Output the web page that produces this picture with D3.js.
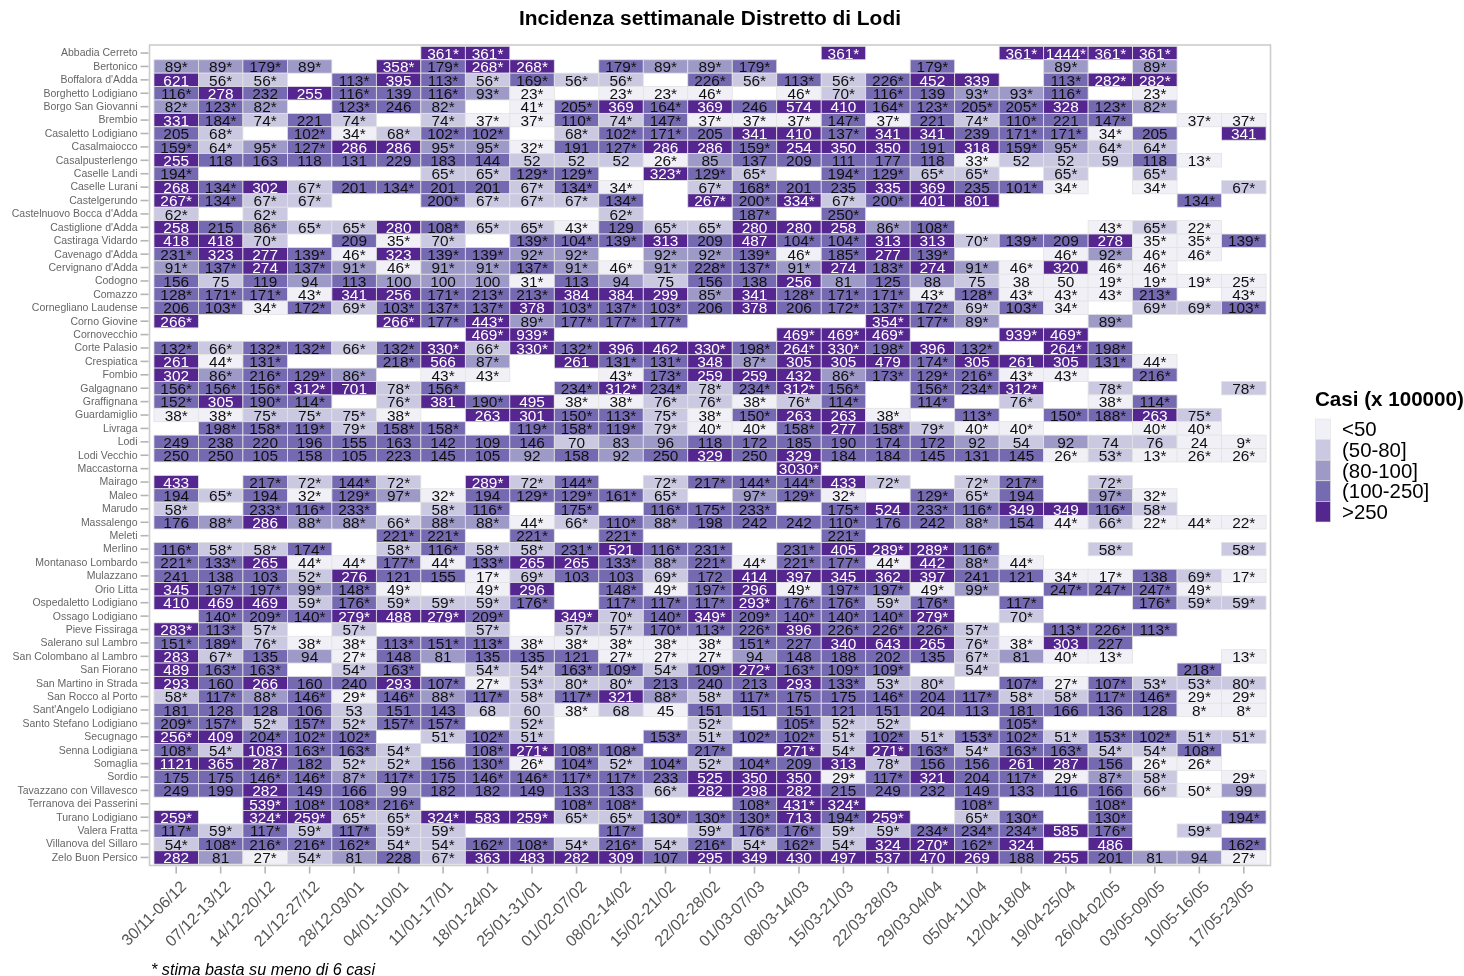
<!DOCTYPE html>
<html><head><meta charset="utf-8">
<script src="https://cdnjs.cloudflare.com/ajax/libs/d3/7.8.5/d3.min.js"></script>
<style>html,body{margin:0;background:#fff}svg{display:block}text{font-family:"Liberation Sans",Arial,sans-serif}</style>
</head><body><div id="chart"></div>
<script>
const chartTitle = "Incidenza settimanale Distretto di Lodi";
const footnote = "* stima basta su meno di 6 casi";
const legendTitle = "Casi (x 100000)";
const legendLabels = ["<50","(50-80]","(80-100]","(100-250]",">250"];
const classBreaks = [50,80,100,250];
const palette = ["#f2f0f7","#cbc9e2","#9e9ac8","#756bb1","#54278f"];
const weeks = ["30/11-06/12","07/12-13/12","14/12-20/12","21/12-27/12","28/12-03/01","04/01-10/01","11/01-17/01","18/01-24/01","25/01-31/01","01/02-07/02","08/02-14/02","15/02-21/02","22/02-28/02","01/03-07/03","08/03-14/03","15/03-21/03","22/03-28/03","29/03-04/04","05/04-11/04","12/04-18/04","19/04-25/04","26/04-02/05","03/05-09/05","10/05-16/05","17/05-23/05"];
const towns = ["Abbadia Cerreto","Bertonico","Boffalora d'Adda","Borghetto Lodigiano","Borgo San Giovanni","Brembio","Casaletto Lodigiano","Casalmaiocco","Casalpusterlengo","Caselle Landi","Caselle Lurani","Castelgerundo","Castelnuovo Bocca d'Adda","Castiglione d'Adda","Castiraga Vidardo","Cavenago d'Adda","Cervignano d'Adda","Codogno","Comazzo","Cornegliano Laudense","Corno Giovine","Cornovecchio","Corte Palasio","Crespiatica","Fombio","Galgagnano","Graffignana","Guardamiglio","Livraga","Lodi","Lodi Vecchio","Maccastorna","Mairago","Maleo","Marudo","Massalengo","Meleti","Merlino","Montanaso Lombardo","Mulazzano","Orio Litta","Ospedaletto Lodigiano","Ossago Lodigiano","Pieve Fissiraga","Salerano sul Lambro","San Colombano al Lambro","San Fiorano","San Martino in Strada","San Rocco al Porto","Sant'Angelo Lodigiano","Santo Stefano Lodigiano","Secugnago","Senna Lodigiana","Somaglia","Sordio","Tavazzano con Villavesco","Terranova dei Passerini","Turano Lodigiano","Valera Fratta","Villanova del Sillaro","Zelo Buon Persico"];
// one line per town, one comma-separated slot per week; * = estimate on fewer than 6 cases
const weeklyIncidence = [
",,,,,,361*,361*,,,,,,,,361*,,,,361*,1444*,361*,361*,,",
"89*,89*,179*,89*,,358*,179*,268*,268*,,179*,89*,89*,179*,,,,179*,,,89*,,89*,,",
"621,56*,56*,,113*,395,113*,56*,169*,56*,56*,,226*,56*,113*,56*,226*,452,339,,113*,282*,282*,,",
"116*,278,232,255,116*,139,116*,93*,23*,,23*,23*,46*,,46*,70*,116*,139,93*,93*,116*,,23*,,",
"82*,123*,82*,,123*,246,82*,,41*,205*,369,164*,369,246,574,410,164*,123*,205*,205*,328,123*,82*,,",
"331,184*,74*,221,74*,,74*,37*,37*,110*,74*,147*,37*,37*,37*,147*,37*,221,74*,110*,221,147*,,37*,37*",
"205,68*,,102*,34*,68*,102*,102*,,68*,102*,171*,205,341,410,137*,341,341,239,171*,171*,34*,205,,341",
"159*,64*,95*,127*,286,286,95*,95*,32*,191,127*,286,286,159*,254,350,350,191,318,159*,95*,64*,64*,,",
"255,118,163,118,131,229,183,144,52,52,52,26*,85,137,209,111,177,118,33*,52,52,59,118,13*,",
"194*,,,,,,65*,65*,129*,129*,,323*,129*,65*,,194*,129*,65*,65*,,65*,,65*,,",
"268,134*,302,67*,201,134*,201,201,67*,134*,34*,,67*,168*,201,235,335,369,235,101*,34*,,34*,,67*",
"267*,134*,67*,67*,,,200*,67*,67*,67*,134*,,267*,200*,334*,67*,200*,401,801,,,,,134*,",
"62*,,62*,,,,,,,,62*,,,187*,,250*,,,,,,,,,",
"258,215,86*,65*,65*,280,108*,65*,65*,43*,129,65*,65*,280,280,258,86*,108*,,,,43*,65*,22*,",
"418,418,70*,,209,35*,70*,,139*,104*,139*,313,209,487,104*,104*,313,313,70*,139*,209,278,35*,35*,139*",
"231*,323,277,139*,46*,323,139*,139*,92*,92*,,92*,92*,139*,46*,185*,277,139*,,,46*,92*,46*,46*,",
"91*,137*,274,137*,91*,46*,91*,91*,137*,91*,46*,91*,228*,137*,91*,274,183*,274,91*,46*,320,46*,46*,,",
"156,75,119,94,113,100,100,100,31*,113,94,75,156,138,256,81,125,88,75,38,50,19*,19*,19*,25*",
"128*,171*,171*,43*,341,256,171*,213*,213*,384,384,299,85*,341,128*,171*,171*,43*,128*,43*,43*,43*,213*,,43*",
"206,103*,34*,172*,69*,103*,137*,137*,378,103*,137*,103*,206,378,206,172*,137*,172*,69*,103*,34*,,69*,69*,103*",
"266*,,,,,266*,177*,443*,89*,177*,177*,177*,,,,,354*,177*,89*,,,89*,,,",
",,,,,,,469*,939*,,,,,,469*,469*,469*,,,939*,469*,,,,",
"132*,66*,132*,132*,66*,132*,330*,66*,330*,132*,396,462,330*,198*,264*,330*,198*,396,132*,,264*,198*,,,",
"261,44*,131*,,,218*,566,87*,,261,131*,131*,348,87*,305,305,479,174*,305,261,305,131*,44*,,",
"302,86*,216*,129*,86*,,43*,43*,,,43*,173*,259,259,432,86*,173*,129*,216*,43*,43*,,216*,,",
"156*,156*,156*,312*,701,78*,156*,,,234*,312*,234*,78*,234*,312*,156*,,156*,234*,312*,,78*,,,78*",
"152*,305,190*,114*,,76*,381,190*,495,38*,38*,76*,76*,38*,76*,114*,,114*,,76*,,38*,114*,,",
"38*,38*,75*,75*,75*,38*,,263,301,150*,113*,75*,38*,150*,263,263,38*,,113*,,150*,188*,263,75*,",
",198*,158*,119*,79*,158*,158*,,119*,158*,119*,79*,40*,40*,158*,277,158*,79*,40*,40*,,,40*,40*,",
"249,238,220,196,155,163,142,109,146,70,83,96,118,172,185,190,174,172,92,54,92,74,76,24,9*",
"250,250,105,158,105,223,145,105,92,158,92,250,329,250,329,184,184,145,131,145,26*,53*,13*,26*,26*",
",,,,,,,,,,,,,,3030*,,,,,,,,,,",
"433,,217*,72*,144*,72*,,289*,72*,144*,,72*,217*,144*,144*,433,72*,,72*,217*,,72*,,,",
"194,65*,194,32*,129*,97*,32*,194,129*,129*,161*,65*,,97*,129*,32*,,129*,65*,194,,97*,32*,,",
"58*,,233*,116*,233*,,58*,116*,,175*,,116*,175*,233*,,175*,524,233*,116*,349,349,116*,58*,,",
"176,88*,286,88*,88*,66*,88*,88*,44*,66*,110*,88*,198,242,242,110*,176,242,88*,154,44*,66*,22*,44*,22*",
",,,,,221*,221*,,221*,,221*,,,,,221*,,,,,,,,,",
"116*,58*,58*,174*,,58*,116*,58*,58*,231*,521,116*,231*,,231*,405,289*,289*,116*,,,58*,,,58*",
"221*,133*,265,44*,44*,177*,44*,133*,265,265,133*,88*,221*,44*,221*,177*,44*,442,88*,44*,,,,,",
"241,138,103,52*,276,121,155,17*,69*,103,103,69*,172,414,397,345,362,397,241,121,34*,17*,138,69*,17*",
"345,197*,197*,99*,148*,49*,,49*,296,,148*,49*,197*,296,49*,197*,197*,49*,99*,,247*,247*,247*,49*,",
"410,469,469,59*,176*,59*,59*,59*,176*,,117*,117*,117*,293*,176*,176*,59*,176*,,117*,,,176*,59*,59*",
",140*,209*,140*,279*,488,279*,209*,,349*,70*,140*,349*,209*,140*,140*,140*,279*,,70*,,,,,",
"283*,113*,57*,,57*,,,57*,,57*,57*,170*,113*,226*,396,226*,226*,226*,57*,,113*,226*,113*,,",
"151*,189*,76*,38*,38*,113*,151*,113*,38*,38*,38*,38*,38*,151*,227,340,643,265,76*,38*,303,227,,,",
"283,67*,135,94,27*,148,81,135,135,121,27*,27*,27*,94,148,188,202,135,67*,81,40*,13*,,,13*",
"489,163*,163*,,54*,163*,,54*,54*,163*,109*,54*,109*,272*,163*,109*,109*,,54*,,,,,218*,",
"293,160,266,160,240,293,107*,27*,53*,80*,80*,213,240,213,293,133*,53*,80*,,107*,27*,107*,53*,53*,80*",
"58*,117*,88*,146*,29*,146*,88*,117*,58*,117*,321,88*,58*,117*,175,175,146*,204,117*,58*,58*,117*,146*,29*,29*",
"181,128,128,106,53,151,143,68,60,38*,68,45,151,151,151,121,151,204,113,181,166,136,128,8*,8*",
"209*,157*,52*,157*,52*,157*,157*,,52*,,,,52*,,105*,52*,52*,,,105*,,,,,",
"256*,409,204*,102*,102*,,51*,102*,51*,,,153*,51*,102*,102*,51*,102*,51*,153*,102*,51*,153*,102*,51*,51*",
"108*,54*,1083,163*,163*,54*,,108*,271*,108*,108*,,217*,,271*,54*,271*,163*,54*,163*,163*,54*,54*,108*,",
"1121,365,287,182,52*,52*,156,130*,26*,104*,52*,104*,52*,104*,209,313,78*,156,156,261,287,156,26*,26*,",
"175,175,146*,146*,87*,117*,175,146*,146*,117*,117*,233,525,350,350,29*,117*,321,204,117*,29*,87*,58*,,29*",
"249,199,282,149,166,99,182,182,149,133,133,66*,282,298,282,215,249,232,149,133,116,166,66*,50*,99",
",,539*,108*,108*,216*,,,,108*,108*,,,108*,431*,324*,,,108*,,,108*,,,",
"259*,,324*,259*,65*,65*,324*,583,259*,65*,65*,130*,130*,130*,713,194*,259*,,65*,130*,,130*,,,194*",
"117*,59*,117*,59*,117*,59*,59*,,,,117*,,59*,176*,176*,59*,59*,234*,234*,234*,585,176*,,59*,",
"54*,108*,216*,216*,162*,54*,54*,162*,108*,54*,216*,54*,216*,54*,162*,54*,324,270*,162*,324,,486,,,162*",
"282,81,27*,54*,81,228,67*,363,483,282,309,107,295,349,430,497,537,470,269,188,255,201,81,94,27*"
];

const W = 1464, H = 976;
const panel = {left:149.5, right:1270.5, top:45, bottom:865.5};
const x = d3.scaleBand().domain(weeks).range([panel.left,panel.right]).paddingInner(0).paddingOuter(0.1);
const y = d3.scaleBand().domain(towns).range([panel.top,panel.bottom]).paddingInner(0).paddingOuter(0.1);
const fillOf = v => palette[d3.bisectLeft(classBreaks, v)];

const svg = d3.select("#chart").append("svg").attr("width",W).attr("height",H);

svg.append("defs").append("filter").attr("id","soft").attr("x","0").attr("y","0")
  .attr("width","100%").attr("height","100%").attr("filterUnits","userSpaceOnUse")
  .append("feGaussianBlur").attr("stdDeviation",0.4);

const cells = [];
weeklyIncidence.forEach((line,r)=>line.split(",").forEach((label,c)=>{
  if(label) cells.push({town:towns[r],week:weeks[c],label,value:parseFloat(label)});
}));

const plot = svg.append("g").attr("filter","url(#soft)");

plot.append("g").selectAll("rect").data(cells).join("rect")
  .attr("x",d=>x(d.week)).attr("y",d=>y(d.town))
  .attr("width",x.bandwidth()).attr("height",y.bandwidth())
  .attr("fill",d=>fillOf(d.value)).attr("stroke","#e3e3e3").attr("stroke-width",0.8);

plot.append("g").selectAll("text").data(cells).join("text")
  .attr("x",d=>x(d.week)+x.bandwidth()/2).attr("y",d=>y(d.town)+y.bandwidth()/2+5.7)
  .attr("text-anchor","middle").attr("font-size",15.4)
  .attr("fill",d=>d.value>250?"#fff":"#111").text(d=>d.label);

plot.append("rect").attr("x",panel.left).attr("y",panel.top)
  .attr("width",panel.right-panel.left).attr("height",panel.bottom-panel.top)
  .attr("fill","none").attr("stroke","#cccccc").attr("stroke-width",1.6);

const yAxis = plot.append("g").attr("transform",`translate(${panel.left-1},0)`)
  .call(d3.axisLeft(y).tickSize(8).tickPadding(3));
yAxis.select(".domain").remove();
yAxis.selectAll("line").attr("stroke","#b5b5b5").attr("stroke-width",1.6);
yAxis.selectAll("text").attr("font-size",10.5).attr("fill","#666").attr("font-family","'Liberation Sans',Arial,sans-serif");

const xAxis = plot.append("g").attr("transform",`translate(0,${panel.bottom+1})`)
  .call(d3.axisBottom(x).tickSize(7));
xAxis.select(".domain").remove();
xAxis.selectAll("line").attr("stroke","#b5b5b5").attr("stroke-width",1.6);
xAxis.selectAll("text").attr("font-size",15.9).attr("fill","#555")
  .attr("font-family","'Liberation Sans',Arial,sans-serif")
  .attr("text-anchor","end").attr("transform","translate(7,17) rotate(-45)").attr("dy","0.35em").attr("y",0);

svg.append("text").attr("x",710).attr("y",25).attr("text-anchor","middle")
  .attr("font-size",20.9).attr("font-weight","bold").attr("fill","#000").text(chartTitle);
svg.append("text").attr("x",151).attr("y",975).attr("font-size",16.2)
  .attr("font-style","italic").attr("fill","#000").text(footnote);

const legend = svg.append("g");
legend.append("text").attr("x",1315).attr("y",406).attr("font-size",20.6)
  .attr("font-weight","bold").attr("fill","#000").text(legendTitle);
const ly = d3.scaleBand().domain(legendLabels).range([419,522]);
legend.selectAll("rect").data(legendLabels).join("rect")
  .attr("x",1315.5).attr("y",d=>ly(d)).attr("width",15).attr("height",ly.bandwidth())
  .attr("fill",(d,i)=>palette[i]).attr("stroke","#e3e3e3").attr("stroke-width",0.6);
legend.selectAll("text.l").data(legendLabels).join("text").attr("class","l")
  .attr("x",1342).attr("y",d=>ly(d)+ly.bandwidth()/2+7).attr("font-size",20.4)
  .attr("fill","#000").text(d=>d);
</script></body></html>
